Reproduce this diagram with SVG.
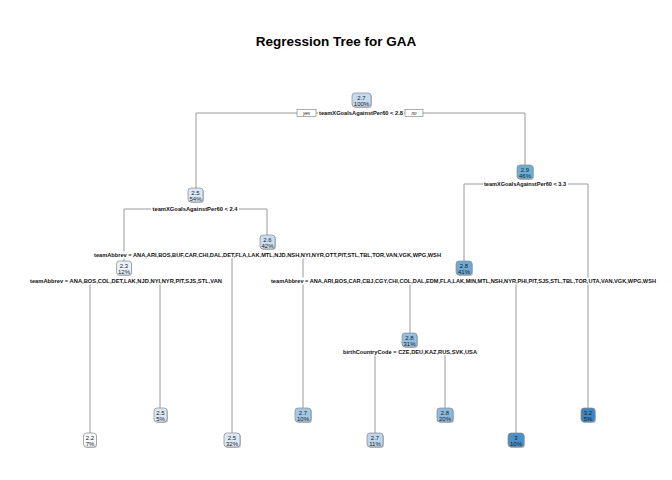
<svg xmlns="http://www.w3.org/2000/svg" width="672" height="480" viewBox="0 0 672 480">
<style>
.edge{stroke:#9a9a9a;stroke-width:1;fill:none}
.sh{fill:#c4c4c4}
.box{stroke:#8a8a8a;stroke-width:0.7}
.nt{font-family:"Liberation Sans",Arial,sans-serif;font-size:6px;text-anchor:middle;fill:#1c1c1c}
.sl{font-family:"Liberation Sans",Arial,sans-serif;font-size:5.8px;font-weight:bold;text-anchor:middle;fill:#111}
.bg{fill:#fff}
.yn{fill:#fff;stroke:#777;stroke-width:0.6}
.ynt{font-family:"Liberation Sans",Arial,sans-serif;font-size:4.5px;font-style:italic;text-anchor:middle;fill:#222}
.title{font-family:"Liberation Sans",Arial,sans-serif;font-size:13.5px;font-weight:bold;text-anchor:middle;fill:#000}
</style>
<rect width="672" height="480" fill="#fff"/>
<text class="title" x="336" y="46">Regression Tree for GAA</text>
<g id="connectors">
<path class="edge" d="M196,188 V113 H525 V165"/>
<path class="edge" d="M124,261 V209 H267 V235"/>
<path class="edge" d="M464,261 V184 H588 V408"/>
<path class="edge" d="M90,433 V281 H160 V408"/>
<path class="edge" d="M232,433 V255 H303 V408"/>
<path class="edge" d="M410,333 V281 H516 V433"/>
<path class="edge" d="M375,433 V352 H445 V408"/>
</g>
<g id="node1">
<rect class="bg" x="318" y="109.5" width="86" height="7"/>
<text class="sl" x="361" y="115" textLength="84" lengthAdjust="spacingAndGlyphs">teamXGoalsAgainstPer60 &lt; 2.8</text>
<rect class="yn" x="297" y="109.5" width="19" height="7"/>
<text class="ynt" x="306.5" y="114.5">yes</text>
<rect class="yn" x="405" y="109.5" width="18" height="7"/>
<text class="ynt" x="414" y="114.5">no</text>
<rect class="sh" x="353" y="94" width="19" height="14" rx="3"/>
<rect class="box" x="352" y="93" width="19" height="14" rx="3" fill="#c5daef"/>
<text class="nt" x="361.5" y="99.5">2.7</text>
<text class="nt" x="361.5" y="105.5">100%</text>
</g>
<g id="node2">
<rect class="bg" x="151" y="205.5" width="88" height="7"/>
<text class="sl" x="195" y="211" textLength="85" lengthAdjust="spacingAndGlyphs">teamXGoalsAgainstPer60 &lt; 2.4</text>
<rect class="sh" x="189" y="189" width="15" height="14" rx="3"/>
<rect class="box" x="188" y="188" width="15" height="14" rx="3" fill="#d9e7f5"/>
<text class="nt" x="195.5" y="194.5">2.5</text>
<text class="nt" x="195.5" y="200.5">54%</text>
</g>
<g id="node3">
<rect class="bg" x="483" y="180.5" width="85" height="7"/>
<text class="sl" x="525" y="186" textLength="82" lengthAdjust="spacingAndGlyphs">teamXGoalsAgainstPer60 &lt; 3.3</text>
<rect class="sh" x="518" y="166" width="16" height="14" rx="3"/>
<rect class="box" x="517" y="165" width="16" height="14" rx="3" fill="#6baed6"/>
<text class="nt" x="525" y="171.5">2.9</text>
<text class="nt" x="525" y="177.5">46%</text>
</g>
<g id="node4">
<rect class="bg" x="29" y="277.5" width="194" height="7"/>
<text class="sl" x="126" y="283" textLength="192" lengthAdjust="spacingAndGlyphs">teamAbbrev = ANA,BOS,COL,DET,LAK,NJD,NYI,NYR,PIT,SJS,STL,VAN</text>
<rect class="sh" x="117" y="262" width="15" height="14" rx="3"/>
<rect class="box" x="116.5" y="261" width="15" height="14" rx="3" fill="#e8f1fa"/>
<text class="nt" x="124" y="267.5">2.3</text>
<text class="nt" x="124" y="273.5">12%</text>
</g>
<g id="node5">
<rect class="bg" x="93" y="251.5" width="349" height="7"/>
<text class="sl" x="267.5" y="257" textLength="347" lengthAdjust="spacingAndGlyphs">teamAbbrev = ANA,ARI,BOS,BUF,CAR,CHI,DAL,DET,FLA,LAK,MTL,NJD,NSH,NYI,NYR,OTT,PIT,STL,TBL,TOR,VAN,VGK,WPG,WSH</text>
<rect class="sh" x="261" y="236" width="15" height="14" rx="3"/>
<rect class="box" x="260" y="235" width="15" height="14" rx="3" fill="#cadcf0"/>
<text class="nt" x="267.5" y="241.5">2.6</text>
<text class="nt" x="267.5" y="247.5">42%</text>
</g>
<g id="node6">
<rect class="bg" x="270" y="277.5" width="387" height="7"/>
<text class="sl" x="463.5" y="283" textLength="385" lengthAdjust="spacingAndGlyphs">teamAbbrev = ANA,ARI,BOS,CAR,CBJ,CGY,CHI,COL,DAL,EDM,FLA,LAK,MIN,MTL,NSH,NYR,PHI,PIT,SJS,STL,TBL,TOR,UTA,VAN,VGK,WPG,WSH</text>
<rect class="sh" x="457" y="262" width="16" height="14" rx="3"/>
<rect class="box" x="456" y="261" width="16" height="14" rx="3" fill="#6ea9d6"/>
<text class="nt" x="464" y="267.5">2.8</text>
<text class="nt" x="464" y="273.5">41%</text>
</g>
<g id="node7">
<rect class="bg" x="342" y="348.5" width="136" height="7"/>
<text class="sl" x="410" y="354" textLength="134" lengthAdjust="spacingAndGlyphs">birthCountryCode = CZE,DEU,KAZ,RUS,SVK,USA</text>
<rect class="sh" x="403" y="334" width="15" height="14" rx="3"/>
<rect class="box" x="402" y="333" width="15" height="14" rx="3" fill="#93bfe2"/>
<text class="nt" x="409.5" y="339.5">2.8</text>
<text class="nt" x="409.5" y="345.5">31%</text>
</g>
<g id="leaf1">
<rect class="sh" x="84" y="434" width="13" height="14" rx="3"/>
<rect class="box" x="83.5" y="433" width="13" height="14" rx="3" fill="#f5f9fd"/>
<text class="nt" x="90" y="439.5">2.2</text>
<text class="nt" x="90" y="445.5">7%</text>
</g>
<g id="leaf2">
<rect class="sh" x="155" y="409" width="13" height="14" rx="3"/>
<rect class="box" x="154" y="408" width="13" height="14" rx="3" fill="#dae6f3"/>
<text class="nt" x="160.5" y="414.5">2.5</text>
<text class="nt" x="160.5" y="420.5">5%</text>
</g>
<g id="leaf3">
<rect class="sh" x="225" y="434" width="16" height="14" rx="3"/>
<rect class="box" x="224" y="433" width="16" height="14" rx="3" fill="#dce9f5"/>
<text class="nt" x="232" y="439.5">2.5</text>
<text class="nt" x="232" y="445.5">32%</text>
</g>
<g id="leaf4">
<rect class="sh" x="296" y="409" width="16" height="14" rx="3"/>
<rect class="box" x="295" y="408" width="16" height="14" rx="3" fill="#a3c7e6"/>
<text class="nt" x="303" y="414.5">2.7</text>
<text class="nt" x="303" y="420.5">10%</text>
</g>
<g id="leaf5">
<rect class="sh" x="368" y="434" width="16" height="14" rx="3"/>
<rect class="box" x="367" y="433" width="16" height="14" rx="3" fill="#bdd6ee"/>
<text class="nt" x="375" y="439.5">2.7</text>
<text class="nt" x="375" y="445.5">11%</text>
</g>
<g id="leaf6">
<rect class="sh" x="438" y="409" width="16" height="14" rx="3"/>
<rect class="box" x="437" y="408" width="16" height="14" rx="3" fill="#8cbadf"/>
<text class="nt" x="445" y="414.5">2.8</text>
<text class="nt" x="445" y="420.5">20%</text>
</g>
<g id="leaf7">
<rect class="sh" x="509" y="434" width="16" height="14" rx="3"/>
<rect class="box" x="508" y="433" width="16" height="14" rx="3" fill="#4a91c9"/>
<text class="nt" x="516" y="439.5">3</text>
<text class="nt" x="516" y="445.5">10%</text>
</g>
<g id="leaf8">
<rect class="sh" x="582" y="409" width="14" height="14" rx="3"/>
<rect class="box" x="581" y="408" width="14" height="14" rx="3" fill="#3f87c4"/>
<text class="nt" x="588" y="414.5">3.2</text>
<text class="nt" x="588" y="420.5">5%</text>
</g>
</svg>
